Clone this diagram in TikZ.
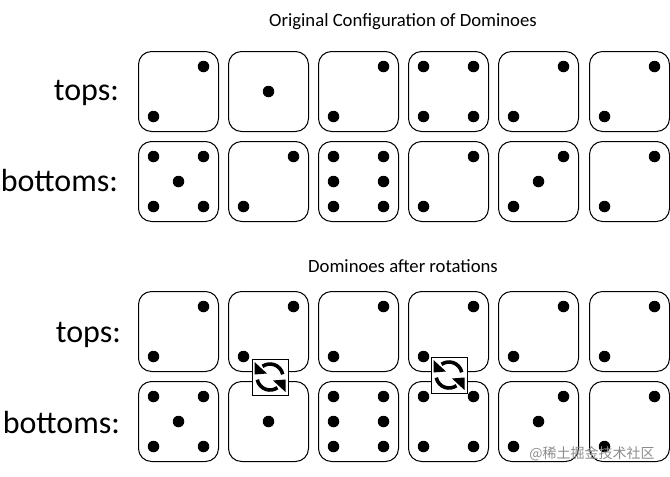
\documentclass[tikz,border=0pt]{standalone}
\usepackage{fontspec}
\setmainfont{Carlito}
\newfontfamily\cjkfont{Noto Sans CJK SC}
\usetikzlibrary{positioning}
\tikzset{
  tile/.style={draw, line width=1pt, rounded corners=13pt, minimum size=80pt, inner sep=0pt},
  pip/.style={circle, fill=black, minimum size=11.5pt, inner sep=0pt},
  piptl/.style={xshift=-25pt, yshift=25pt},
  piptr/.style={xshift=25pt, yshift=25pt},
  pipml/.style={xshift=-25pt},
  pipmr/.style={xshift=25pt},
  pipcc/.style={},
  pipbl/.style={xshift=-25pt, yshift=-25pt},
  pipbr/.style={xshift=25pt, yshift=-25pt},
  pipat/.style={pip#1},
  heading/.style={font=\fontsize{18.7}{20}\selectfont},
  rowlabel/.style={font=\fontsize{32}{36}\selectfont, anchor=base east},
  swapbox/.style={draw, fill=white, line width=1pt, minimum size=36pt, inner sep=0pt}
}
\newcommand{\one}{cc}
\newcommand{\two}{tr,bl}
\newcommand{\three}{tr,cc,bl}
\newcommand{\four}{tl,tr,bl,br}
\newcommand{\five}{tl,tr,cc,bl,br}
\newcommand{\six}{tl,tr,ml,mr,bl,br}
% one row of dominoes: name prefix, y, list of values
\newcommand{\tilerow}[3]{
  \foreach \n/\xx/\vals in {#3} {
    \node [tile] (#1\n) at (\xx,#2) {};
    \edef\piplist{\vals}
    \foreach \p in \piplist {
      \node [pip,pipat/.expand once=\p] (#1\n\p) at (#1\n) {};
    }
  }
}
% white box with the two turning arrows
\newcommand{\swapicon}[3]{
  \node [swapbox] (#1) at (#2,#3) {};
  \foreach \turn in {0,180} {
    \begin{scope}[shift={(#1.center)}, y=1pt, rotate=\turn]
      \draw [line width=3.6pt] (12:13) arc [start angle=12, end angle=125, radius=13];
      \fill (-15.5,15) -- (-15.5,2.5) -- (-3,3.5) -- cycle;
    \end{scope}
  }
}
\begin{document}
\begin{tikzpicture}[x=1pt, y=-1pt]
\useasboundingbox (0,0) rectangle (670,477);
\node [heading] (title) at (403,22) {Original Configuration of Dominoes};
\node [rowlabel] (topsa) at (122.5,100.5) {tops:};
\node [rowlabel] (bottomsa) at (121.5,191.5) {bottoms:};
\tilerow{a}{91.5}{1/178.5/\two, 2/268.5/\one, 3/358.5/\two, 4/448.5/\four, 5/538.5/\two, 6/629.5/\two}
\tilerow{b}{181.5}{1/178.5/\five, 2/268.5/\two, 3/358.5/\six, 4/448.5/\two, 5/538.5/\three, 6/629.5/\two}
\node [heading] (subtitle) at (403,266.5) {Dominoes after rotations};
\node [rowlabel] (topsb) at (124.5,342.5) {tops:};
\node [rowlabel] (bottomsb) at (123.5,433.5) {bottoms:};
\tilerow{c}{331.5}{1/178.5/\two, 2/268.5/\two, 3/358.5/\two, 4/448.5/\two, 5/538.5/\two, 6/629.5/\two}
\tilerow{d}{421.5}{1/178.5/\five, 2/268.5/\one, 3/358.5/\six, 4/448.5/\four, 5/538.5/\three, 6/629.5/\two}
\swapicon{swapa}{270}{377}
\swapicon{swapb}{449}{375}
\node [text=black!45, font=\cjkfont\fontsize{14}{15}\selectfont] (mark) at (592,454) {@稀土掘金技术社区};
\end{tikzpicture}
\end{document}
